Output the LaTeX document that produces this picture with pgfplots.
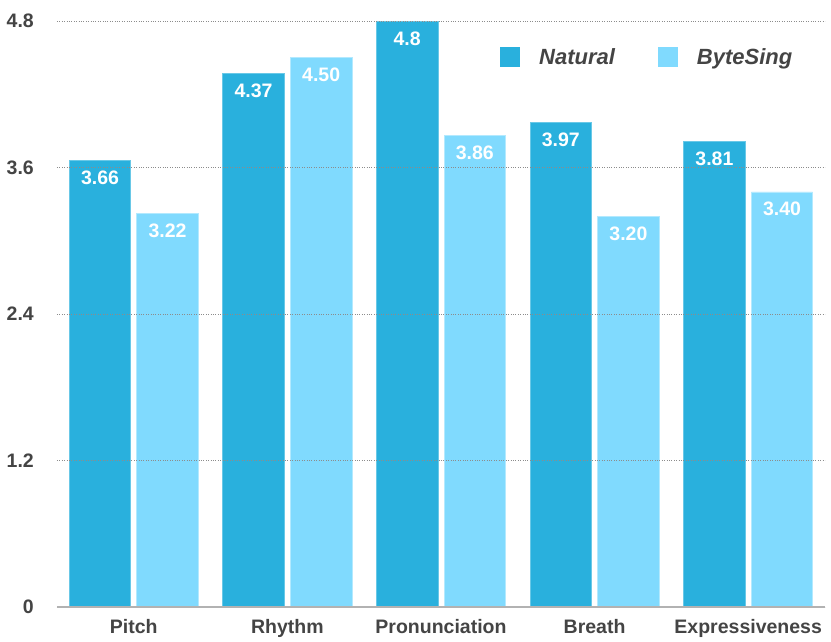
\documentclass[border=0pt]{standalone}
\usepackage{pgfplots}
\pgfplotsset{compat=1.18}
\usepackage{pgfplotstable}
\usepackage{fontspec}
\setmainfont{Liberation Sans}
\definecolor{natc}{RGB}{41,176,221}
\definecolor{bytc}{RGB}{128,218,254}
\definecolor{txt}{RGB}{68,68,68}
\pgfplotstableread{
x y lab
0 3.66 3.66
1 4.37 4.37
2 4.80 4.8
3 3.97 3.97
4 3.81 3.81
}\natural
\pgfplotstableread{
x y lab
0 3.22 3.22
1 4.50 4.50
2 3.86 3.86
3 3.20 3.20
4 3.40 3.40
}\bytesing
\begin{document}
\begin{tikzpicture}[x=1pt,y=1pt]
\begin{axis}[
  at={(0,0)}, anchor=south west,
  scale only axis, width=768pt, height=586pt,
  xmin=-0.5, xmax=4.5, ymin=0, ymax=4.8,
  clip=false, axis on top,
  ybar, bar width=0.40,
  xtick={0,1,2,3,4},
  xticklabels={Pitch,Rhythm,Pronunciation,Breath,Expressiveness},
  ytick={0,1.2,2.4,3.6,4.8},
  yticklabels={0,1.2,2.4,3.6,4.8},
  major tick length=0pt,
  tick style={draw=none},
  axis x line*=bottom, axis y line*=left,
  y axis line style={draw=none},
  x axis line style={draw=black!30, line width=1.3pt, -},
  ymajorgrids,
  grid style={dotted, black!45, line width=0.8pt},
  ticklabel style={font=\bfseries\fontsize{19.5}{22}\selectfont, text=txt, inner sep=0pt},
  yticklabel style={anchor=east, xshift=-23pt},
  xticklabel style={anchor=north, yshift=-12pt},
  point meta=explicit symbolic,
  nodes near coords={\pgfplotspointmeta},
  every node near coord/.append style={anchor=north, inner sep=0pt, yshift=-10pt, text=white, font=\bfseries\fontsize{19.5}{22}\selectfont},
  legend columns=2,
  legend style={draw=none, fill=none, inner sep=0pt, outer sep=0pt,
    at={(0.577,0.9386)}, anchor=west,
    font=\bfseries\itshape\fontsize{22}{24}\selectfont, text=txt,
    /tikz/every even column/.append style={column sep=41pt}},
  legend image code/.code={\path[#1, draw=none] (0pt,-10pt) rectangle (20pt,10pt); \path[draw=none, fill=none] (0pt,0pt) -- (37pt,0pt);},
]
\addplot[fill=natc, draw=natc!70!white, line width=0.8pt, bar shift=-0.22] table[x=x, y=y, meta=lab] {\natural};
\addlegendentry{Natural}
\addplot[fill=bytc, draw=bytc!60!white, line width=0.8pt, bar shift=0.22] table[x=x, y=y, meta=lab] {\bytesing};
\addlegendentry{ByteSing}
\end{axis}
\path[use as bounding box] (-57pt,-34pt) rectangle (774pt,607pt);
\end{tikzpicture}
\end{document}
